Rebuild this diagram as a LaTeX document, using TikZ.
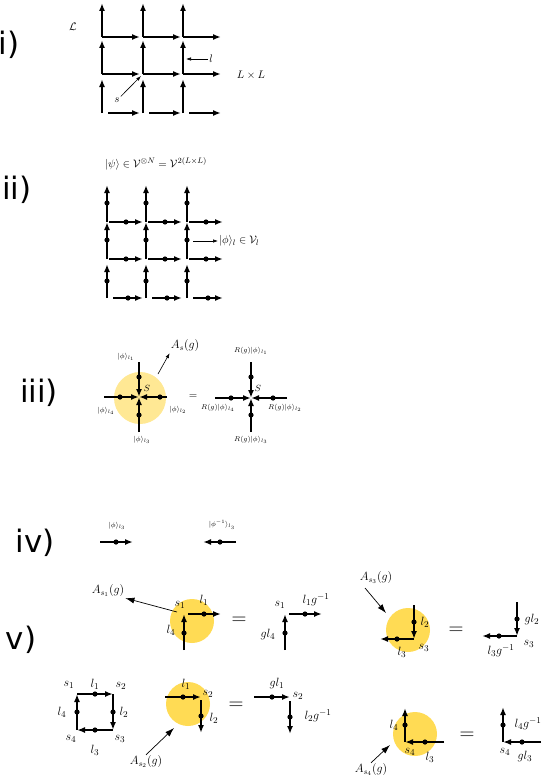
\documentclass[tikz,border=0pt]{standalone}
\usepackage{amsmath,amssymb}
\usepackage{fontspec}
\usetikzlibrary{arrows.meta}
\newfontfamily\panelfont{DejaVu Sans}
\definecolor{gelb}{rgb}{1.00,0.86,0.33}
\definecolor{hellgelb}{rgb}{1.00,0.91,0.58}

\tikzset{
  gitter/.style={line width=1.6bp,-{Latex[length=8bp,width=6bp]}},
  pfeil/.style={line width=1.6bp,-{Latex[length=8bp,width=6bp]}},
  zeiger/.style={line width=0.6bp,-{Latex[length=5bp,width=3.5bp]}},
  spitz/.style={line width=0.7bp,-{Latex[length=9bp,width=6bp]}},
  punkt/.style={fill=black},
  panel/.style={font=\panelfont\fontsize{31}{31}\selectfont,inner sep=0pt},
  marke/.style={font=\fontsize{11}{12}\selectfont,inner sep=1bp},
  klein/.style={font=\fontsize{7.5}{8}\selectfont,inner sep=1bp},
  vmarke/.style={font=\fontsize{13}{14}\selectfont,inner sep=1bp},
  amarke/.style={font=\fontsize{11.5}{12}\selectfont,inner sep=1bp},
  gleich/.style={font=\fontsize{20}{20}\selectfont},
}

\begin{document}
\begin{tikzpicture}[yscale=-1,x=1bp,y=1bp]
  \useasboundingbox (0,0) rectangle (545,777);

  % --- Panel-Beschriftungen ---
  \node[panel] (pi)   at (9,45)   {i)};
  \node[panel] (pii)  at (17,190) {ii)};
  \node[panel] (piii) at (39,393) {iii)};
  \node[panel] (piv)  at (35,543) {iv)};
  \node[panel] (pv)   at (21,640) {v)};

  % ======================================================================
  % i) Gitter L x L mit Kanten l und Ecken s
  % ======================================================================
  \foreach \x in {102,143,183} {
    \foreach \y in {37,74} {
      \draw[gitter] (\x,\y) -- (\x,\y-34);
      \draw[gitter] (\x,\y) -- (\x+38,\y);
    }
    \draw[gitter] (\x,113) -- (\x,79);
    \draw[gitter] (\x+6,113) -- (\x+38,113);
  }
  \node[marke] (gitterL) at (73,27) {$\mathcal{L}$};
  \node[marke] (kante) at (211,59) {$l$};
  \draw[zeiger] (kante.west) -- (186,59);
  \node[marke] (groesse) at (251,75) {$L\times L$};
  \node[marke] (ecke) at (117,100) {$s$};
  \draw[zeiger] (ecke.north east) -- (141,76);

  % ======================================================================
  % ii) Zustand auf den Kanten
  % ======================================================================
  \node[marke] (psi) at (156,164)
    {$|\psi\rangle\in\mathcal{V}^{\otimes N}=\mathcal{V}^{2(L\times L)}$};
  \foreach \x in {107,146,187} {
    \foreach \y in {222,259} {
      \draw[gitter] (\x,\y) -- (\x,\y-37);
      \draw[gitter] (\x+2,\y) -- (\x+36,\y);
      \fill[punkt] (\x,\y-19) circle (2.6);
      \fill[punkt] (\x+19,\y) circle (2.6);
    }
    \draw[gitter] (\x,298) -- (\x,264);
    \draw[gitter] (\x+6,298) -- (\x+36,298);
    \fill[punkt] (\x,281) circle (2.6);
    \fill[punkt] (\x+21,298) circle (2.6);
  }
  \node[marke,anchor=west] (phil) at (218,241) {$|\phi\rangle_l\in\mathcal{V}_l$};
  \draw[zeiger] (193,241) -- (phil.west);

  % ======================================================================
  % iii) Ecken-Operator A_s(g)
  % ======================================================================
  \fill[hellgelb] (140,398) circle (26);
  \coordinate (s) at (139,397);
  \draw[pfeil] (139,362) -- (s);
  \draw[pfeil] (104,397) -- (s);
  \draw[pfeil] (167,397) -- (s);
  \draw[pfeil] (139,432) -- (s);
  \foreach \p in {(139,377),(120,397),(160,397),(139,415)}
    \fill[punkt] \p circle (2.6);
  \node[klein] (eins) at (126,357) {$|\phi\rangle_{l_1}$};
  \node[klein] (vier) at (106,411) {$|\phi\rangle_{l_4}$};
  \node[klein] (zwei) at (178,410) {$|\phi\rangle_{l_2}$};
  \node[klein] (drei) at (142,440) {$|\phi\rangle_{l_3}$};
  \node[klein,font=\fontsize{9}{9}\selectfont] (sname) at (147,388) {$S$};
  \node[amarke] (As) at (185,346) {$A_s(g)$};
  \draw[zeiger] (158,374) -- (As.south west);
  \node[klein,font=\fontsize{11}{11}\selectfont] (gl) at (193,396) {$=$};

  \coordinate (t) at (251,398);
  \draw[pfeil] (251,362) -- (t);
  \draw[pfeil] (215,398) -- (t);
  \draw[pfeil] (287,398) -- (t);
  \draw[pfeil] (251,432) -- (t);
  \foreach \p in {(251,377),(231,398),(273,398),(251,415)}
    \fill[punkt] \p circle (2.6);
  \node[klein] (reins) at (251,351) {$R(g)|\phi\rangle_{l_1}$};
  \node[klein] (rvier) at (218,408) {$R(g)|\phi\rangle_{l_4}$};
  \node[klein] (rzwei) at (285,408) {$R(g)|\phi\rangle_{l_2}$};
  \node[klein] (rdrei) at (251,440) {$R(g)|\phi\rangle_{l_3}$};
  \node[klein,font=\fontsize{9}{9}\selectfont] (tname) at (258,388) {$S$};

  % ======================================================================
  % iv) Orientierung umkehren
  % ======================================================================
  \draw[pfeil] (100,542) -- (133,542);
  \node[klein] (phi3) at (117,526) {$|\phi\rangle_{l_3}$};
  \draw[pfeil] (236,542) -- (203,542);
  \node[klein] (phiinv) at (222,525) {$|\phi^{-1}\rangle_{l_3}$};
  \foreach \p in {(116,542),(220,542)}
    \fill[punkt] \p circle (2.6);

  % ======================================================================
  % v) Wirkung von A_s(g) auf die vier Ecken einer Plakette
  % ======================================================================
  % --- Ecke s1 ---
  \fill[gelb] (192,621) circle (22);
  \coordinate (a1) at (184,614);
  \draw[pfeil] (184,650) -- (a1);
  \draw[pfeil] (188,614) -- (221,614);
  \node[vmarke] (a1s) at (180,605) {$s_1$};
  \node[vmarke] (a1l) at (204,600) {$l_1$};
  \node[vmarke] (a1v) at (171,630) {$l_4$};
  \node[amarke] (As1) at (108,591) {$A_{s_1}(g)$};
  \draw[spitz] (177,612) -- (As1.south east);
  \node[gleich] (g1) at (239,621) {$=$};
  \coordinate (b1) at (285,614);
  \draw[pfeil] (285,650) -- (b1);
  \draw[pfeil] (289,614) -- (322,614);
  \node[vmarke] (b1s) at (280,605) {$s_1$};
  \node[vmarke] (b1l) at (316,600) {$l_1g^{-1}$};
  \node[vmarke] (b1v) at (268,635) {$gl_4$};
  \foreach \p in {(184,633),(204,614),(285,633),(305,614)}
    \fill[punkt] \p circle (2.6);

  % --- Ecke s3 ---
  \fill[gelb] (408,630) circle (22);
  \coordinate (a3) at (414,639);
  \draw[pfeil] (414,605) -- (a3);
  \draw[pfeil] (a3) -- (380,639);
  \node[vmarke] (a3z) at (425,622) {$l_2$};
  \node[vmarke] (a3d) at (402,652) {$l_3$};
  \node[vmarke] (a3s) at (424,648) {$s_3$};
  \node[amarke] (As3) at (376,578) {$A_{s_3}(g)$};
  \draw[spitz] (365,588) -- (386,613);
  \node[gleich] (g3) at (456,631) {$=$};
  \coordinate (b3) at (517,636);
  \draw[pfeil] (517,602) -- (b3);
  \draw[pfeil] (b3) -- (482,636);
  \node[vmarke] (b3z) at (532,620) {$gl_2$};
  \node[vmarke] (b3d) at (501,651) {$l_3g^{-1}$};
  \node[vmarke] (b3s) at (529,644) {$s_3$};
  \foreach \p in {(414,622),(397,639),(517,619),(499,636)}
    \fill[punkt] \p circle (2.6);

  % --- Plakette s1 s2 s3 s4 ---
  \coordinate (p1) at (77,694);
  \coordinate (p2) at (113,694);
  \coordinate (p3) at (113,730);
  \coordinate (p4) at (77,730);
  \draw[pfeil] (p1) -- (p2);
  \draw[pfeil] (p2) -- (p3);
  \draw[pfeil] (p3) -- (p4);
  \draw[pfeil] (p4) -- (p1);
  \foreach \p in {(95,694),(113,712),(95,730),(77,712)}
    \fill[punkt] \p circle (2.6);
  \node[vmarke] (q1) at (69,685) {$s_1$};
  \node[vmarke] (q2) at (121,686) {$s_2$};
  \node[vmarke] (q3) at (120,739) {$s_3$};
  \node[vmarke] (q4) at (71,739) {$s_4$};
  \node[vmarke] (k1) at (95,684) {$l_1$};
  \node[vmarke] (k2) at (124,712) {$l_2$};
  \node[vmarke] (k3) at (95,750) {$l_3$};
  \node[vmarke] (k4) at (62,712) {$l_4$};

  % --- Ecke s2 ---
  \fill[gelb] (188,704) circle (22);
  \coordinate (a2) at (201,697);
  \draw[pfeil] (165,697) -- (a2);
  \draw[pfeil] (201,700) -- (201,733);
  \node[vmarke] (a2e) at (186,684) {$l_1$};
  \node[vmarke] (a2s) at (208,694) {$s_2$};
  \node[vmarke] (a2z) at (214,718) {$l_2$};
  \node[amarke] (As2) at (146,762) {$A_{s_2}(g)$};
  \draw[spitz] (As2.north) -- (174,728);
  \node[gleich] (g2) at (236,706) {$=$};
  \coordinate (b2) at (290,697);
  \draw[pfeil] (254,697) -- (b2);
  \draw[pfeil] (290,701) -- (290,734);
  \node[vmarke] (b2e) at (277,684) {$gl_1$};
  \node[vmarke] (b2s) at (298,696) {$s_2$};
  \node[vmarke] (b2z) at (318,716) {$l_2g^{-1}$};
  \foreach \p in {(183,697),(201,716),(272,697),(290,717)}
    \fill[punkt] \p circle (2.6);

  % --- Ecke s4 ---
  \fill[gelb] (415,734) circle (22);
  \coordinate (a4) at (405,742);
  \draw[pfeil] (a4) -- (405,708);
  \draw[pfeil] (444,742) -- (a4);
  \node[vmarke] (a4v) at (394,725) {$l_4$};
  \node[vmarke] (a4s) at (410,752) {$s_4$};
  \node[vmarke] (a4d) at (430,757) {$l_3$};
  \node[amarke] (As4) at (371,770) {$A_{s_4}(g)$};
  \draw[spitz] (As4.north) -- (390,745);
  \node[gleich] (g4) at (467,736) {$=$};
  \coordinate (b4) at (503,742);
  \draw[pfeil] (b4) -- (503,707);
  \draw[pfeil] (541,742) -- (b4);
  \node[vmarke] (b4v) at (528,724) {$l_4g^{-1}$};
  \node[vmarke] (b4s) at (505,752) {$s_4$};
  \node[vmarke] (b4d) at (525,757) {$gl_3$};
  \foreach \p in {(405,725),(425,742),(503,725),(522,742)}
    \fill[punkt] \p circle (2.6);

\end{tikzpicture}
\end{document}
